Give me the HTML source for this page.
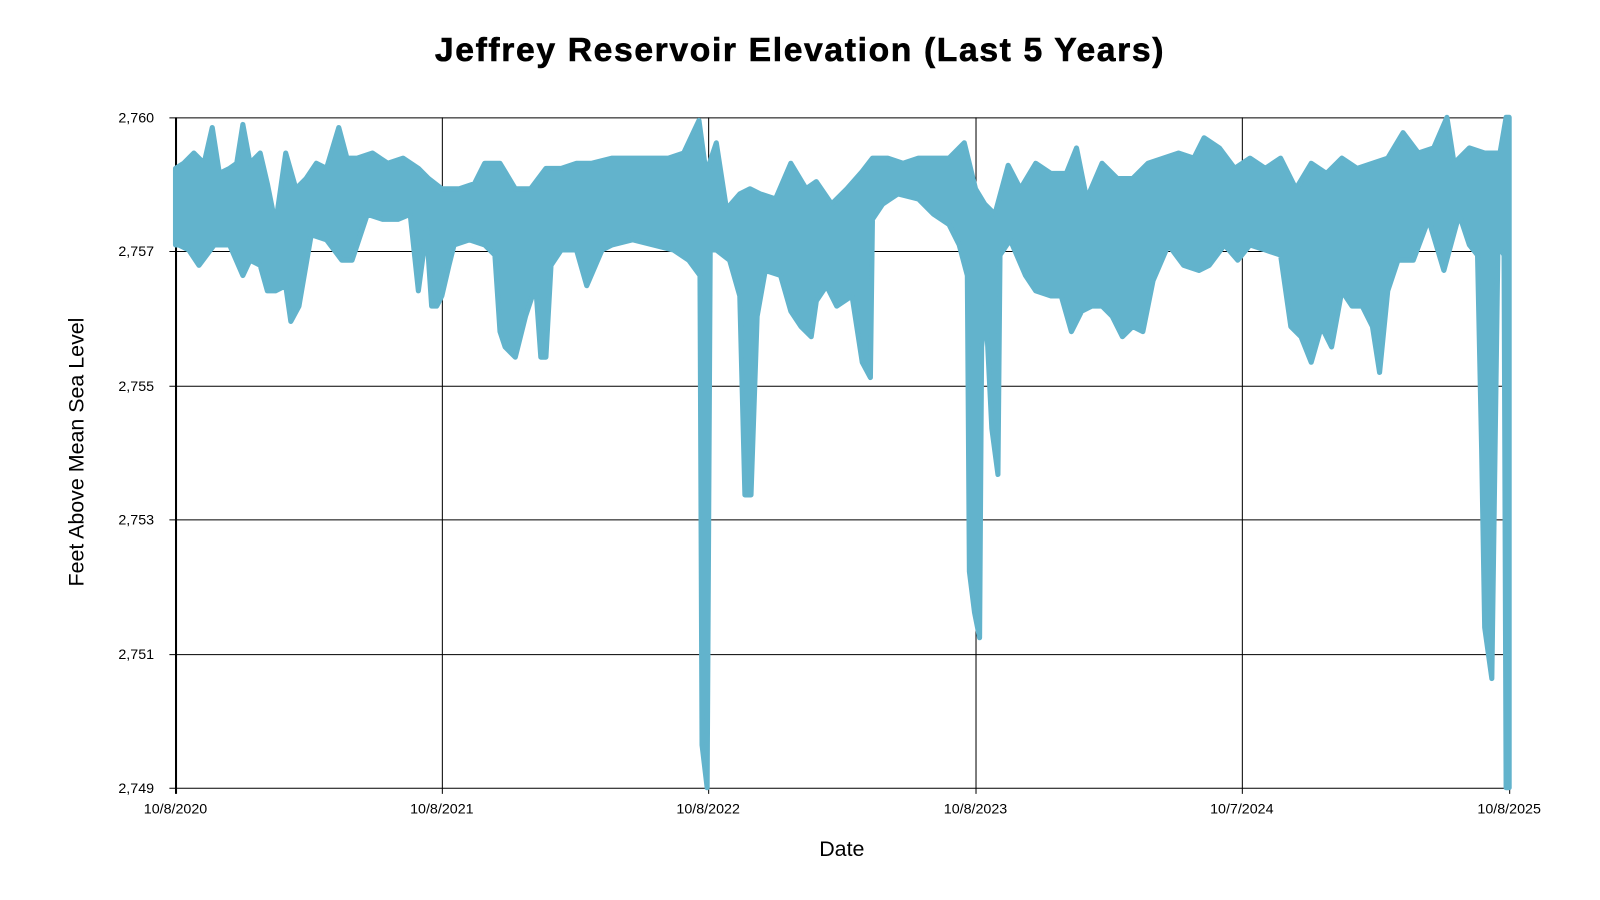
<!DOCTYPE html>
<html><head><meta charset="utf-8"><style>
html,body{margin:0;padding:0;background:#fff;}
svg{display:block;font-family:"Liberation Sans",Arial,sans-serif;}
</style></head><body>
<svg width="1600" height="900" viewBox="0 0 1600 900" xmlns="http://www.w3.org/2000/svg">
<rect width="1600" height="900" fill="#fff"/>
<g transform="scale(1.0204)">
<text x="784" y="60" text-anchor="middle" font-size="33" font-weight="bold" fill="#000" letter-spacing="1.6" stroke="#000" stroke-width="0.6">Jeffrey Reservoir Elevation (Last 5 Years)</text>
<g stroke="#000" stroke-width="1">
<line x1="166" y1="115.5" x2="1480" y2="115.5"/>
<line x1="166" y1="246.5" x2="1480" y2="246.5"/>
<line x1="166" y1="378.5" x2="1480" y2="378.5"/>
<line x1="166" y1="509.5" x2="1480" y2="509.5"/>
<line x1="166" y1="641.5" x2="1480" y2="641.5"/>
<line x1="166" y1="772.5" x2="1480" y2="772.5"/>
<line x1="172.5" y1="115" x2="172.5" y2="778" stroke-width="2"/>
<line x1="433.5" y1="115" x2="433.5" y2="778"/>
<line x1="694.5" y1="115" x2="694.5" y2="778"/>
<line x1="956.5" y1="115" x2="956.5" y2="778"/>
<line x1="1217.5" y1="115" x2="1217.5" y2="778"/>
<line x1="1479.5" y1="115" x2="1479.5" y2="778"/>
</g>
<polygon fill="#62b3cc" stroke="#62b3cc" stroke-width="5" stroke-linejoin="round" points="172,165 180,160 190,150 200,160 208,125 215,170 225,165 232,160 238,122 245,160 255,150 262,180 270,220 280,150 290,185 300,175 310,160 320,165 332,125 340,155 350,155 365,150 380,160 395,155 410,165 420,175 433,185 450,185 465,180 475,160 490,160 505,185 520,185 535,165 550,165 565,160 580,160 600,155 620,155 640,155 655,155 670,150 685,118 692,170 702,140 712,205 725,190 735,185 745,190 760,195 775,160 790,185 800,178 815,200 830,185 845,168 855,155 870,155 885,160 900,155 915,155 930,155 945,140 956,185 965,200 975,210 988,162 1000,185 1015,160 1030,170 1045,170 1055,145 1065,195 1080,160 1095,175 1110,175 1125,160 1140,155 1155,150 1170,155 1180,135 1195,145 1210,165 1225,155 1240,165 1255,155 1270,185 1285,160 1300,170 1315,155 1330,165 1345,160 1360,155 1375,130 1390,150 1405,145 1418,115 1425,160 1440,145 1455,150 1470,150 1476,115 1479,115 1479,772 1476,772 1474,250 1468,240 1462,665 1455,615 1452,440 1448,250 1440,240 1430,210 1415,265 1400,215 1385,255 1370,255 1360,285 1352,365 1345,320 1335,300 1325,300 1315,285 1305,340 1295,320 1285,355 1275,330 1265,320 1255,250 1240,245 1225,240 1213,255 1200,240 1185,260 1175,265 1160,260 1145,240 1130,275 1120,325 1110,320 1100,330 1090,310 1080,300 1070,300 1060,305 1050,325 1040,290 1030,290 1015,285 1005,270 990,235 980,250 978,465 972,420 966,300 962,340 960,625 955,600 950,560 948,270 940,240 930,220 915,210 900,195 880,190 865,200 855,215 853,370 845,355 835,290 820,300 810,280 800,295 795,330 785,320 775,305 765,270 750,265 742,310 736,485 730,485 725,290 715,255 702,245 696,245 693,772 688,730 686,270 675,255 660,245 640,240 620,235 600,240 590,245 575,280 565,245 550,245 540,260 535,350 530,350 525,280 515,310 505,350 495,340 490,325 485,250 475,240 460,235 445,240 440,260 433,290 428,300 423,300 418,225 410,285 402,210 390,215 375,215 360,210 345,255 335,255 320,235 305,230 293,300 285,315 280,280 270,285 262,285 255,260 245,255 238,270 225,240 210,240 195,260 185,245 175,240 172,240"/>
<g font-size="14" fill="#000" text-anchor="end">
<text x="151" y="120">2,760</text>
<text x="151" y="251">2,757</text>
<text x="151" y="383">2,755</text>
<text x="151" y="514">2,753</text>
<text x="151" y="646">2,751</text>
<text x="151" y="777">2,749</text>
</g>
<g font-size="14" fill="#000" text-anchor="middle">
<text x="172" y="797">10/8/2020</text>
<text x="433" y="797">10/8/2021</text>
<text x="694" y="797">10/8/2022</text>
<text x="956" y="797">10/8/2023</text>
<text x="1217" y="797">10/7/2024</text>
<text x="1479" y="797">10/8/2025</text>
</g>
<text x="825" y="839" font-size="21" text-anchor="middle" fill="#000">Date</text>
<text transform="translate(82,443) rotate(-90)" font-size="21" text-anchor="middle" fill="#000">Feet Above Mean Sea Level</text>
</g>
</svg>
</body></html>
